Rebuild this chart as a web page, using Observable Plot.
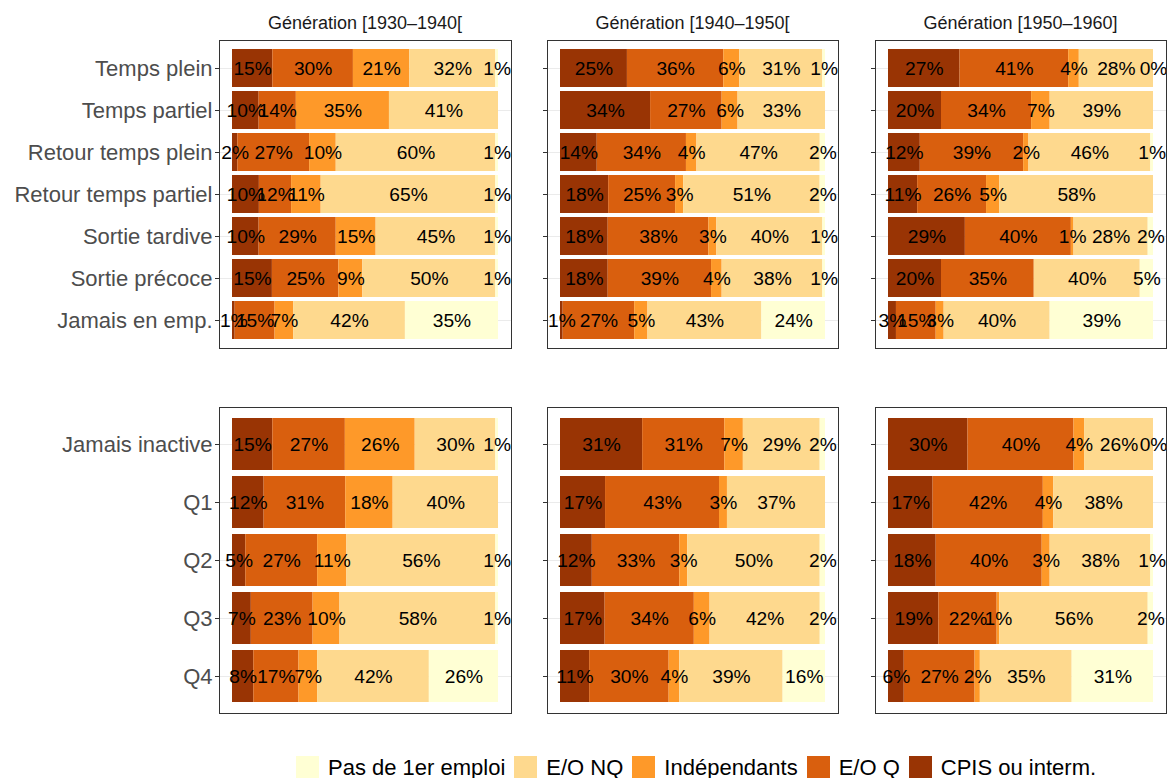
<!DOCTYPE html>
<html>
<head>
<meta charset="utf-8">
<script src="https://cdn.jsdelivr.net/npm/d3@7"></script>
<script src="https://cdn.jsdelivr.net/npm/@observablehq/plot@0.6"></script>
<style>
  html, body { margin: 0; padding: 0; background: #fff; }
  body { font-family: "Liberation Sans", Arial, Helvetica, sans-serif; }
  #root { position: relative; width: 1167px; height: 778px; overflow: hidden; background: #fff; }
  .panel { position: absolute; }
  .panel svg { overflow: visible; display: block; }
  .title { position: absolute; font-size: 18px; line-height: 22px; color: #1a1a1a; white-space: nowrap; transform: translateX(-50%); }
  .legend { position: absolute; left: 296px; top: 756px; height: 23px; display: flex; align-items: center; font-size: 22px; color: #000; white-space: nowrap; }
  .legend .sw { width: 23px; height: 23px; margin-right: 9px; flex: none; }
  .legend .lab { margin-right: 9px; }
</style>
</head>
<body>
<div id="root"></div>
<script>
// ---- Data ----
const categories = ["CPIS ou interm.", "E/O Q", "Indépendants", "E/O NQ", "Pas de 1er emploi"];
const colors = ["#993404", "#D95F0E", "#FE9929", "#FED98E", "#FFFFD4"];
const generations = ["Génération [1930–1940[", "Génération [1940–1950[", "Génération [1950–1960]"];
const trajectoires = ["Temps plein", "Temps partiel", "Retour temps plein", "Retour temps partiel", "Sortie tardive", "Sortie précoce", "Jamais en emp."];
const quartiles = ["Jamais inactive", "Q1", "Q2", "Q3", "Q4"];

// values per row in order of categories (CPIS, E/O Q, Indép., E/O NQ, Pas de 1er emploi); null = absent
const traj_1930 = [
  [15, 30, 21, 32, 1],
  [10, 14, 35, 41, null],
  [2, 27, 10, 60, 1],
  [10, 12, 11, 65, 1],
  [10, 29, 15, 45, 1],
  [15, 25, 9, 50, 1],
  [1, 15, 7, 42, 35]
];
const traj_1940 = [
  [25, 36, 6, 31, 1],
  [34, 27, 6, 33, null],
  [14, 34, 4, 47, 2],
  [18, 25, 3, 51, 2],
  [18, 38, 3, 40, 1],
  [18, 39, 4, 38, 1],
  [1, 27, 5, 43, 24]
];
const traj_1950 = [
  [27, 41, 4, 28, 0],
  [20, 34, 7, 39, null],
  [12, 39, 2, 46, 1],
  [11, 26, 5, 58, null],
  [29, 40, 1, 28, 2],
  [20, 35, null, 40, 5],
  [3, 15, 3, 40, 39]
];
const quart_1930 = [
  [15, 27, 26, 30, 1],
  [12, 31, 18, 40, null],
  [5, 27, 11, 56, 1],
  [7, 23, 10, 58, 1],
  [8, 17, 7, 42, 26]
];
const quart_1940 = [
  [31, 31, 7, 29, 2],
  [17, 43, 3, 37, null],
  [12, 33, 3, 50, 2],
  [17, 34, 6, 42, 2],
  [11, 30, 4, 39, 16]
];
const quart_1950 = [
  [30, 40, 4, 26, 0],
  [17, 42, 4, 38, null],
  [18, 40, 3, 38, 1],
  [19, 22, 1, 56, 2],
  [6, 27, 2, 35, 31]
];

// ---- Build long tables ----
function longTable(rows, values) {
  const out = [];
  rows.forEach((r, i) => {
    categories.forEach((c, j) => {
      const v = values[i][j];
      if (v !== null && v !== undefined) out.push({row: r, cat: c, value: v});
    });
  });
  return out;
}

const FONT = '"Liberation Sans", Arial, Helvetica, sans-serif';
const root = document.getElementById("root");

// panel geometry (px)
const colX = [[219, 511], [547, 838], [875, 1166]];
const rowY = [[40, 348], [407, 713]];

function panel(col, rowIdx, rows, values) {
  const [x0, x1] = colX[col];
  const [y0, y1] = rowY[rowIdx];
  const w = x1 - x0, h = y1 - y0;
  const showLabels = col === 0;
  const ml = showLabels ? x0 : 8;
  const data = longTable(rows, values);
  const chart = Plot.plot({
    width: ml + w + 1,
    height: h + 2,
    marginLeft: ml, marginRight: 1, marginTop: 1, marginBottom: 1,
    style: {fontFamily: FONT, overflow: "visible", background: "transparent"},
    x: {domain: [0, 1], axis: null, insetLeft: 13, insetRight: 13},
    y: {type: "band", domain: rows, paddingInner: 0.1, paddingOuter: 0.15, axis: null},
    color: {domain: categories, range: colors},
    marks: [
      Plot.gridY(rows, {stroke: "#ebebeb", strokeOpacity: 1, strokeWidth: 1.1}),
      Plot.barX(data, Plot.stackX({offset: "normalize", x: "value", y: "row", fill: "cat"})),
      Plot.textX(data, Plot.stackX({offset: "normalize", x: "value", y: "row", z: "cat",
        text: d => d.value + "%", fill: "#000", fontSize: 19.2})),
      Plot.axisY({tickSize: 4, tickPadding: 3, fontSize: 22, stroke: "#333", fill: "#4d4d4d",
        label: null, tickFormat: showLabels ? (d => d) : (() => "")}),
      Plot.frame({stroke: "#333", strokeWidth: 1})
    ]
  });
  const div = document.createElement("div");
  div.className = "panel";
  div.style.left = (x0 - ml) + "px";
  div.style.top = (y0 - 1) + "px";
  div.appendChild(chart);
  root.appendChild(div);
}

const trajData = [traj_1930, traj_1940, traj_1950];
const quartData = [quart_1930, quart_1940, quart_1950];
for (let c = 0; c < 3; c++) {
  panel(c, 0, trajectoires, trajData[c]);
  panel(c, 1, quartiles, quartData[c]);
  const t = document.createElement("div");
  t.className = "title";
  t.textContent = generations[c];
  t.style.left = ((colX[c][0] + colX[c][1]) / 2) + "px";
  t.style.top = "12px";
  root.appendChild(t);
}

// ---- Legend ----
const legend = document.createElement("div");
legend.className = "legend";
categories.slice().reverse().forEach(c => {
  const sw = document.createElement("span");
  sw.className = "sw";
  sw.style.background = colors[categories.indexOf(c)];
  const lab = document.createElement("span");
  lab.className = "lab";
  lab.textContent = c;
  legend.appendChild(sw);
  legend.appendChild(lab);
});
root.appendChild(legend);
</script>
</body>
</html>
